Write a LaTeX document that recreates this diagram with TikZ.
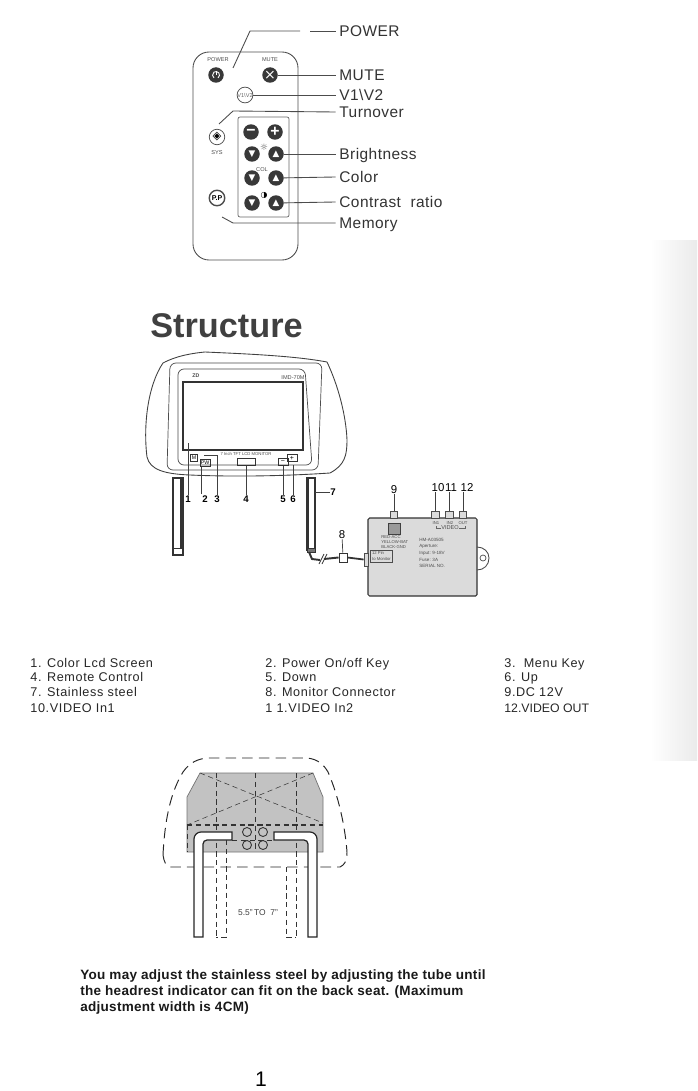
\documentclass[tikz,border=0pt]{standalone}
\usepackage{fontspec}
\setmainfont{Liberation Sans}
\newfontfamily\symfont{DejaVu Sans}
\newfontfamily\calloutfont[LetterSpace=3]{Liberation Sans}
\newfontfamily\legendfont[LetterSpace=5]{Liberation Sans}
\newfontfamily\notefont[LetterSpace=2]{Liberation Sans}
\usepackage{tikz}
\definecolor{RemoteInk}{gray}{.22}
\definecolor{BoxGray}{gray}{.86}
\definecolor{ShellGray}{gray}{.76}
\tikzset{
  callout/.style={anchor=west,inner sep=2pt,text height=7.3pt,text depth=1pt,font=\calloutfont\fontsize{8.8}{8.8}\selectfont,text=black!80},
  calloutline/.style={draw=black!70,line width=.5pt},
  keybtn/.style={circle,fill=RemoteInk,text=white,minimum size=.31cm,inner sep=0pt,font=\symfont\fontsize{5}{5}\selectfont},
  openbtn/.style={circle,draw=black!70,fill=white,minimum size=.31cm,inner sep=0pt,font=\fontsize{3.2}{3.2}\selectfont},
  tinytext/.style={inner sep=0pt,text=black!70,font=\fontsize{3.2}{3.4}\selectfont},
  partnum/.style={inner sep=0pt,font=\fontsize{5.5}{5.5}\selectfont\bfseries},
  legend/.style={anchor=west,inner sep=0pt,text height=5.9pt,text depth=.5pt,text=black!85,font=\legendfont\fontsize{7.2}{7.2}\selectfont},
  port/.style={draw=black!70,fill=BoxGray,line width=.5pt,minimum width=.15cm,minimum height=.14cm,inner sep=0pt},
  hiddenline/.style={densely dashed,line width=.4pt,black!80},
  bigdash/.style={dash pattern=on 6pt off 3.5pt,line width=.55pt,black!85}
}
\begin{document}
\begin{tikzpicture}[x=.02cm,y=-.02cm]
  \useasboundingbox (0,0) rectangle (697,1091);
  \shade[left color=white,right color=black!8] (650,240) rectangle (697,760);
  \draw[black!70,line width=.5pt,rounded corners=.32cm] (193,52) rectangle (298,260);
  \draw[black!60,line width=.4pt,rounded corners=.04cm] (238,117) rectangle (289,217);
  \node[tinytext] (txtPower) at (218,60) {POWER};
  \node[tinytext] (txtMute) at (270,60) {MUTE};
  \node[tinytext] (txtSys) at (217,153) {SYS};
  \node[tinytext] (txtCol) at (262,170) {COL};
  \node[keybtn] (btnPower) at (216,75) {};
  \draw[white,line width=.5pt] ([shift={(55:3.5)}]btnPower.center) arc (55:-235:3.5);
  \draw[white,line width=.5pt] (216,71) -- (216,75);
  \node[keybtn,font=\symfont\fontsize{8}{8}\selectfont] (btnMute) at (270,75) {×};
  \node[openbtn,text=black!60] (btnV) at (245,95) {V1\textbackslash V2};
  \node[openbtn,font=\symfont\fontsize{6.5}{6.5}\selectfont] (btnSys) at (217,137) {◈};
  \node[openbtn,line width=.8pt,font=\fontsize{4}{4}\selectfont\bfseries] (btnPP) at (217,198) {P.P};
  \node[keybtn,font=\bfseries\fontsize{9}{9}\selectfont] (btnMinus) at (251,132) {−};
  \node[keybtn,font=\bfseries\fontsize{9}{9}\selectfont] (btnPlus) at (275,132) {+};
  \foreach \rowname/\rowy in {Bright/154,Col/178,Con/203}{
    \node[keybtn] (btn\rowname D) at (252,\rowy) {▼};
    \node[keybtn] (btn\rowname U) at (276,\rowy) {▲};
  }
  \node[inner sep=0pt,font=\symfont\fontsize{5}{5}\selectfont,text=black!70] (icoSun) at (264,147) {☼};
  \node[inner sep=0pt,font=\symfont\fontsize{4.5}{4.5}\selectfont] (icoHalf) at (264,195) {◑};
  \node[callout] (lblPower) at (335.5,31) {POWER};
  \node[callout] (lblMute) at (335.5,75) {MUTE};
  \node[callout] (lblV) at (335.5,95) {V1\textbackslash V2};
  \node[callout] (lblTurn) at (335.5,112) {Turnover};
  \node[callout] (lblBright) at (335.5,154) {Brightness};
  \node[callout] (lblCol) at (335.5,177) {Color};
  \node[callout] (lblCon) at (335.5,202) {Contrast\ \ ratio};
  \node[callout] (lblMem) at (335.5,223) {Memory};
  \coordinate (pwrA) at (233,68);
  \coordinate (pwrB) at (250,31);
  \coordinate (pwrC) at (300,31);
  \coordinate (pwrD) at (310,31);
  \coordinate (turnA) at (219,124);
  \coordinate (turnB) at (233,111);
  \coordinate (memA) at (222,217);
  \coordinate (memB) at (233,223);
  \draw[calloutline] (pwrA) -- (pwrB) -- (pwrC);
  \draw[calloutline] (pwrD) -- (lblPower.west);
  \draw[calloutline] (btnMute) -- (lblMute.west);
  \draw[calloutline] (btnV) -- (lblV.west);
  \draw[calloutline] (turnA) -- (turnB) -- (lblTurn.west);
  \draw[calloutline] (btnBrightU) -- (lblBright.west);
  \draw[calloutline] (btnColU) -- (lblCol.west);
  \draw[calloutline] (btnConU) -- (lblCon.west);
  \draw[calloutline] (memA) -- (memB) -- (lblMem.west);
  \node[inner sep=0pt,text=black!75,font=\fontsize{19.5}{19.5}\selectfont\bfseries,anchor=west] (title) at (150,326) {Structure};
  \draw[black!75,line width=.5pt,fill=white] (163,363) .. controls (178,355) and (195,353) .. (205,352) .. controls (250,354) and (295,356) .. (327,362) .. controls (338,385) and (346,415) .. (347,440) .. controls (347,455) and (345,465) .. (330,473) .. controls (285,476) and (235,477) .. (190,475) .. controls (165,474) and (150,470) .. (147,457) .. controls (143,425) and (148,385) .. (163,363) -- cycle;
  \draw[black!70,line width=.4pt,rounded corners=.12cm] (170,363) -- (322,363) -- (318,470) -- (167,470) -- cycle;
  \draw[black!70,line width=.4pt,rounded corners=.12cm] (178,369) -- (305,369) -- (312,465) -- (178,465) -- cycle;
  \node[draw=black!80,line width=.6pt,minimum width=2.4cm,minimum height=1.36cm,inner sep=0pt] (screen) at (243,416) {};
  \node[tinytext,font=\fontsize{3}{3}\selectfont\bfseries] (txtLogo) at (196,376) {ZD};
  \node[tinytext] (txtModel) at (293,378) {IMD-70M};
  \node[tinytext,font=\fontsize{2.4}{2.4}\selectfont] (txtCaption) at (246,454) {7 Inch TFT LCD MONITOR};
  \node[draw=black!80,line width=.4pt,minimum width=.14cm,minimum height=.14cm,inner sep=0pt,font=\fontsize{3}{3}\selectfont] (keyM) at (194,458) {M};
  \node[draw=black!80,line width=.4pt,minimum width=.2cm,minimum height=.14cm,inner sep=0pt,font=\fontsize{3}{3}\selectfont] (keyPw) at (205,463) {PW};
  \node[draw=black!80,line width=.4pt,minimum width=.36cm,minimum height=.14cm,inner sep=0pt] (keyRc) at (246,462) {};
  \node[draw=black!80,line width=.4pt,minimum width=.2cm,minimum height=.14cm,inner sep=0pt,font=\fontsize{4}{4}\selectfont] (keyDn) at (283,462) {−};
  \node[draw=black!80,line width=.4pt,minimum width=.2cm,minimum height=.14cm,inner sep=0pt,font=\fontsize{4}{4}\selectfont] (keyUp) at (292,458) {+};
  \draw[black!80,fill=white,line width=.6pt] (173,478) rectangle (183,555);
  \draw[black!80,line width=1.2pt] (181,478) -- (181,548);
  \draw[black!80,line width=.5pt] (173,548) -- (183,548);
  \draw[black!80,fill=white,line width=.6pt] (307,478) rectangle (315,550);
  \draw[black!80,line width=1.2pt] (308,478) -- (308,549);
  \draw[black!80,fill=black!55,line width=.4pt] (307,548) rectangle (315,552);
  \node[partnum] (num1) at (188,499) {1};
  \node[partnum] (num2) at (205,499) {2};
  \node[partnum] (num3) at (217,499) {3};
  \node[partnum] (num4) at (246,499) {4};
  \node[partnum] (num5) at (283,499) {5};
  \node[partnum] (num6) at (293,499) {6};
  \node[partnum] (num7) at (333,492) {7};
  \coordinate (scrPt) at (188,443);
  \coordinate (elbow2) at (201,494);
  \coordinate (elbow3) at (217,455);
  \coordinate (keyPt3) at (204,455);
  \coordinate (leg7) at (315,492);
  \draw[black!75,line width=.4pt] (num1) -- (scrPt);
  \draw[black!75,line width=.4pt] (elbow2) -- (201,467);
  \draw[black!75,line width=.4pt] (num3) -- (elbow3) -- (keyPt3);
  \draw[black!75,line width=.4pt] (num4) -- (keyRc);
  \draw[black!75,line width=.4pt] (num5) -- (keyDn);
  \draw[black!75,line width=.4pt] (num6) -- (293,465);
  \draw[black!75,line width=.4pt] (leg7) -- (num7);
  \draw[black!80,line width=.6pt,fill=BoxGray,rounded corners=.03cm] (368,518) rectangle (477,596);
  \draw[black!70,line width=.5pt] (477,547) .. controls (484,547) and (489,552) .. (489,558) .. controls (489,565) and (484,570) .. (477,570);
  \draw[black!70,line width=.4pt] (483,558) circle (3);
  \node[port] (port9) at (394,515) {};
  \node[port] (port10) at (435.5,514.5) {};
  \node[port] (port11) at (449.5,514.5) {};
  \node[port] (port12) at (463,514.5) {};
  \node[partnum,font=\fontsize{6.5}{6.5}\selectfont] (num9) at (394,490) {9};
  \node[partnum,font=\fontsize{6.5}{6.5}\selectfont] (num10) at (438,488) {10};
  \node[partnum,font=\fontsize{6.5}{6.5}\selectfont] (num11) at (451,488) {11};
  \node[partnum,font=\fontsize{6.5}{6.5}\selectfont] (num12) at (467,488) {12};
  \draw[black!75,line width=.4pt] (num9) -- (port9);
  \draw[black!75,line width=.4pt] (port10 |- num10.south) -- (port10);
  \draw[black!75,line width=.4pt] (port11 |- num11.south) -- (port11);
  \draw[black!75,line width=.4pt] (port12 |- num12.south) -- (port12);
  \node[tinytext,font=\fontsize{2.4}{2.4}\selectfont] (txtIn1) at (436,523) {IN1};
  \node[tinytext,font=\fontsize{2.4}{2.4}\selectfont] (txtIn2) at (450,523) {IN2};
  \node[tinytext,font=\fontsize{2.4}{2.4}\selectfont] (txtOut) at (463,523) {OUT};
  \node[tinytext] (txtVideo) at (450,528) {VIDEO};
  \draw[black!60,line width=.3pt] (436,526) -- (436,528) -- (441,528);
  \draw[black!60,line width=.3pt] (459,528) -- (465,528) -- (465,526);
  \draw[black!75,fill=black!40,line width=.3pt] (388,523) rectangle (400,534);
  \node[tinytext,align=left,anchor=west,font=\fontsize{2.4}{2.8}\selectfont] (txtWires) at (381,542) {RED-ACC\\YELLOW-BAT\\BLACK-GND};
  \node[tinytext,draw=black!70,align=left,inner sep=1pt,font=\fontsize{2.4}{3}\selectfont] (txtAdapt) at (381.5,556) {12 Pin\\to Monitor};
  \node[tinytext,align=left,anchor=west,font=\fontsize{2.6}{3.8}\selectfont] (txtSpec) at (419,553) {HM-A03505\\Aperture:\\Input: 9-18V\\Fuse: 3A\\SERIAL NO.};
  \node[draw=black!80,fill=white,line width=.5pt,minimum width=.16cm,minimum height=.18cm,inner sep=0pt] (plug) at (343,557.5) {};
  \node[draw=black!70,fill=BoxGray,line width=.5pt,minimum width=.08cm,minimum height=.26cm,inner sep=0pt] (boxSocket) at (366,559.5) {};
  \draw[black!80,line width=1pt] (plug.east) -- (boxSocket.west);
  \coordinate (postEnd) at (309,552);
  \coordinate (cableA) at (312,559);
  \coordinate (cableB) at (320,560);
  \coordinate (cableC) at (324,559);
  \draw[black!80,line width=1.1pt] (postEnd) .. controls (310,556) .. (cableA) -- (cableB);
  \draw[black!80,line width=1.1pt] (cableC) -- (plug.west);
  \draw[black!80,line width=.5pt] (319,564) -- (324,554);
  \draw[black!80,line width=.5pt] (322,564) -- (327,554);
  \node[partnum,font=\fontsize{6.5}{6.5}\selectfont] (num8) at (342,535) {8};
  \draw[black!75,line width=.4pt] (num8) -- (plug);
  \node[legend] (leg1) at (30,663) {1. Color Lcd Screen};
  \node[legend] (leg2) at (265,663) {2. Power On/off Key};
  \node[legend] (leg3) at (504,663) {3.\ \ Menu Key};
  \node[legend] (leg4) at (30,677) {4. Remote Control};
  \node[legend] (leg5) at (265,677) {5. Down};
  \node[legend] (leg6) at (504,677) {6. Up};
  \node[legend] (leg7n) at (30,692) {7. Stainless steel};
  \node[legend] (leg8) at (265,692) {8. Monitor Connector};
  \node[legend] (leg9) at (504,692) {9.DC 12V};
  \node[legend] (leg10) at (30,708) {10.VIDEO In1};
  \node[legend] (leg11) at (265,708) {1 1.VIDEO In2};
  \node[legend,font=\fontsize{7}{7}\selectfont] (leg12) at (504,708) {12.VIDEO OUT};
  \fill[ShellGray] (200,773) -- (313,773) -- (323,797) -- (323,852) -- (187,852) -- (187,797) -- cycle;
  \draw[black!55,line width=.4pt] (200,773) -- (313,773) -- (323,797) -- (323,852) -- (187,852) -- (187,797) -- cycle;
  \draw[bigdash] (163,855) .. controls (165,815) and (172,790) .. (183,772) .. controls (190,762) and (198,759) .. (207,758) -- (307,758) .. controls (318,759) and (324,765) .. (328,772) .. controls (338,795) and (345,825) .. (347,852) .. controls (347,862) and (344,865) .. (340,867) -- (170,867) .. controls (166,866) and (164,862) .. (163,855);
  \draw[hiddenline,line width=.3pt] (200,773) -- (323,823);
  \draw[hiddenline,line width=.3pt] (313,773) -- (187,825);
  \draw[hiddenline,line width=.3pt] (255,773) -- (255,852);
  \draw[hiddenline,line width=.6pt] (187,825) -- (323,825);
  \draw[hiddenline] (187,825) -- (187,852);
  \draw[hiddenline,line width=.3pt] (216,773) -- (216,825);
  \draw[hiddenline] (216,825) -- (216,937);
  \draw[hiddenline] (226,840) -- (226,937) -- (216,937);
  \draw[hiddenline] (286,867) -- (286,937) -- (296,937);
  \draw[hiddenline,line width=.3pt] (296,773) -- (296,825);
  \draw[hiddenline] (296,825) -- (296,937);
  \draw[hiddenline] (232,840) -- (274,840);
  \draw[black!85,fill=white,line width=.7pt] (194,937) [rounded corners=.14cm] -- (194,832) [sharp corners] -- (232,832) -- (232,840) [rounded corners=.08cm] -- (203,840) [sharp corners] -- (203,937) -- cycle;
  \draw[black!85,fill=white,line width=.7pt] (317,937) [rounded corners=.14cm] -- (317,832) [sharp corners] -- (274,832) -- (274,840) [rounded corners=.08cm] -- (308,840) [sharp corners] -- (308,937) -- cycle;
  \foreach \holex/\holey in {247/832,263/832,247/845,263/845}
    \draw[black!80,line width=.5pt] (\holex,\holey) circle (4.5);
  \node[inner sep=0pt,text=black!75,font=\fontsize{4.8}{4.8}\selectfont] (txtGap) at (258,913) {5.5"\,TO\ \ 7"};
  \node[anchor=north west,inner sep=0pt,align=left,font=\notefont\fontsize{7.7}{9.1}\selectfont\bfseries,text=black!90] (note) at (80,969) {You may adjust the stainless steel by adjusting the tube until\\the headrest indicator can fit on the back seat. (Maximum\\adjustment width is 4CM)};
  \node[inner sep=0pt,font=\fontsize{12}{12}\selectfont] (pageNo) at (261,1079) {1};
\end{tikzpicture}
\end{document}
